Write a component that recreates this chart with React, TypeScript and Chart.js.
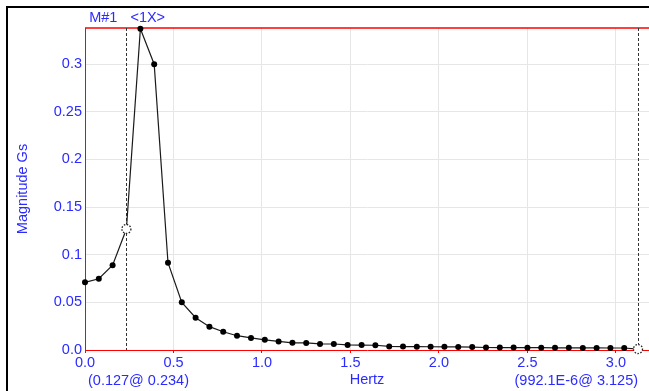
import React, { useEffect, useRef } from "react";
import { Chart, registerables } from "chart.js";

Chart.register(...registerables);

const freqs = [
  0, 0.078, 0.156, 0.234, 0.313, 0.391, 0.469, 0.547, 0.625, 0.703, 0.781,
  0.859, 0.938, 1.016, 1.094, 1.172, 1.25, 1.328, 1.406, 1.484, 1.563, 1.641,
  1.719, 1.797, 1.875, 1.953, 2.031, 2.109, 2.188, 2.266, 2.344, 2.422, 2.5,
  2.578, 2.656, 2.734, 2.813, 2.891, 2.969, 3.047, 3.125,
];
const mags = [
  0.071, 0.0748, 0.089, 0.127, 0.3373, 0.3, 0.0916, 0.05, 0.0339, 0.0245,
  0.0192, 0.015, 0.0127, 0.0107, 0.009, 0.0075, 0.0074, 0.0064, 0.0063,
  0.0053, 0.0052, 0.005, 0.0038, 0.0036, 0.0035, 0.0034, 0.0033, 0.0032,
  0.0031, 0.0026, 0.0025, 0.0025, 0.0024, 0.0024, 0.0023, 0.0023, 0.0022,
  0.0022, 0.0021, 0.0021, 0.000992,
];
const xTicks = [0, 0.5, 1, 1.5, 2, 2.5, 3];
const xTickLabels = ["0.0", "0.5", "1.0", "1.5", "2.0", "2.5", "3.0"];
const yTicks = [0, 0.05, 0.1, 0.15, 0.2, 0.25, 0.3];
const yTickLabels = ["0.0", "0.05", "0.1", "0.15", "0.2", "0.25", "0.3"];
const cursorIdx = [3, 40];
const cursorLabels = ["(0.127@ 0.234)", "(992.1E-6@ 3.125)"];
const markerLabel = "M#1";
const orderLabel = "<1X>";
const xTitle = "Hertz";
const yTitle = "Magnitude Gs";
const xMax = 3.187;
const yMax = 0.338;

const BLUE = "#2b2bff";
const FONT = "'Liberation Sans', Arial, sans-serif";
const FSIZE = 14.5;

const overlay = {
  id: "overlay",
  beforeDatasetsDraw(chart: any) {
    const { ctx, chartArea, scales } = chart;
    ctx.save();
    ctx.strokeStyle = "#ff0000";
    ctx.lineWidth = 1.5;
    ctx.beginPath();
    ctx.moveTo(chartArea.left, chartArea.top);
    ctx.lineTo(chartArea.right, chartArea.top);
    ctx.stroke();
    ctx.strokeStyle = "#333";
    ctx.lineWidth = 1;
    ctx.setLineDash([3, 2]);
    cursorIdx.forEach((i) => {
      const x = Math.round(scales.x.getPixelForValue(freqs[i])) + 0.5;
      ctx.beginPath();
      ctx.moveTo(x, chartArea.top);
      ctx.lineTo(x, chartArea.bottom);
      ctx.stroke();
    });
    ctx.restore();
  },
  afterDatasetsDraw(chart: any) {
    const { ctx, chartArea, scales } = chart;
    ctx.save();
    cursorIdx.forEach((i) => {
      const x = scales.x.getPixelForValue(freqs[i]);
      const y = scales.y.getPixelForValue(mags[i]);
      ctx.setLineDash([]);
      ctx.fillStyle = "#fff";
      ctx.beginPath();
      ctx.arc(x, y, 4.5, 0, Math.PI * 2);
      ctx.fill();
      ctx.setLineDash([1.5, 1.5]);
      ctx.strokeStyle = "#222";
      ctx.lineWidth = 1.3;
      ctx.stroke();
    });
    ctx.setLineDash([]);
    ctx.fillStyle = BLUE;
    ctx.font = FSIZE + "px " + FONT;
    ctx.textBaseline = "middle";
    const c0 = scales.x.getPixelForValue(freqs[cursorIdx[0]]);
    const c1 = scales.x.getPixelForValue(freqs[cursorIdx[1]]);
    ctx.textAlign = "right";
    ctx.fillText(markerLabel, c0 - 9, 18);
    ctx.textAlign = "left";
    ctx.fillText(orderLabel, c0 + 4, 18);
    ctx.fillText(cursorLabels[0], chartArea.left + 3, 381);
    ctx.textAlign = "right";
    ctx.fillText(cursorLabels[1], c1, 381);
    ctx.restore();
  },
};

export default function App() {
  const ref = useRef<HTMLCanvasElement | null>(null);
  useEffect(() => {
    if (!ref.current) return;
    const chart = new Chart(ref.current, {
      type: "line",
      data: {
        datasets: [
          {
            data: freqs.map((f, i) => ({ x: f, y: mags[i] })),
            borderColor: "#1a1a1a",
            borderWidth: 1.2,
            pointRadius: 3,
            pointHoverRadius: 3,
            pointBackgroundColor: "#000",
            pointBorderWidth: 0,
            tension: 0,
            clip: false as any,
          },
        ],
      },
      options: {
        animation: false,
        responsive: false,
        events: [],
        layout: {
          autoPadding: false,
          padding: { left: 0, top: 28, right: 0, bottom: 0 },
        },
        plugins: { legend: { display: false }, tooltip: { enabled: false } },
        scales: {
          x: {
            type: "linear",
            min: 0,
            max: xMax,
            afterFit(s: any) {
              s.height = 41;
              s.paddingLeft = 0;
              s.paddingRight = 0;
            },
            afterBuildTicks(s: any) {
              s.ticks = xTicks.map((v) => ({ value: v }));
            },
            ticks: {
              color: BLUE,
              font: { family: FONT, size: FSIZE },
              padding: 1,
              maxRotation: 0,
              autoSkip: false,
              callback: (v: any) => {
                const i = xTicks.indexOf(Number(v));
                return i >= 0 ? xTickLabels[i] : "";
              },
            },
            grid: {
              color: "#e6e6e6",
              lineWidth: 1,
              drawTicks: true,
              tickLength: 3,
              tickColor: "#ff0000",
            },
            border: { color: "#ff0000", width: 1 },
            title: {
              display: true,
              text: xTitle,
              color: BLUE,
              font: { family: FONT, size: FSIZE },
              padding: { top: 0, bottom: 2 },
            },
          },
          y: {
            type: "linear",
            min: 0,
            max: yMax,
            afterFit(s: any) {
              s.width = 85;
              s.paddingTop = 0;
              s.paddingBottom = 0;
            },
            afterBuildTicks(s: any) {
              s.ticks = yTicks.map((v) => ({ value: v }));
            },
            ticks: {
              color: BLUE,
              font: { family: FONT, size: FSIZE },
              padding: 3,
              autoSkip: false,
              callback: (v: any) => {
                const i = yTicks.indexOf(Number(v));
                return i >= 0 ? yTickLabels[i] : "";
              },
            },
            grid: { color: "#e6e6e6", lineWidth: 1, drawTicks: false },
            border: { color: "#ff0000", width: 1 },
            title: {
              display: true,
              text: yTitle,
              color: BLUE,
              font: { family: FONT, size: FSIZE },
              padding: { top: 14, bottom: 0 },
            },
          },
        },
      },
      plugins: [overlay],
    });
    return () => chart.destroy();
  }, []);
  return (
    <div
      style={{
        position: "fixed",
        left: 0,
        top: 0,
        width: 649,
        height: 391,
        background: "#fff",
        overflow: "hidden",
      }}
    >
      <div
        style={{
          position: "absolute",
          left: 6,
          top: 6,
          width: 641,
          height: 400,
          borderLeft: "2px solid #000",
          borderTop: "2px solid #000",
        }}
      />
      <canvas
        ref={ref}
        width={649}
        height={391}
        style={{ position: "absolute", left: 0, top: 0, width: 649, height: 391 }}
      />
    </div>
  );
}
